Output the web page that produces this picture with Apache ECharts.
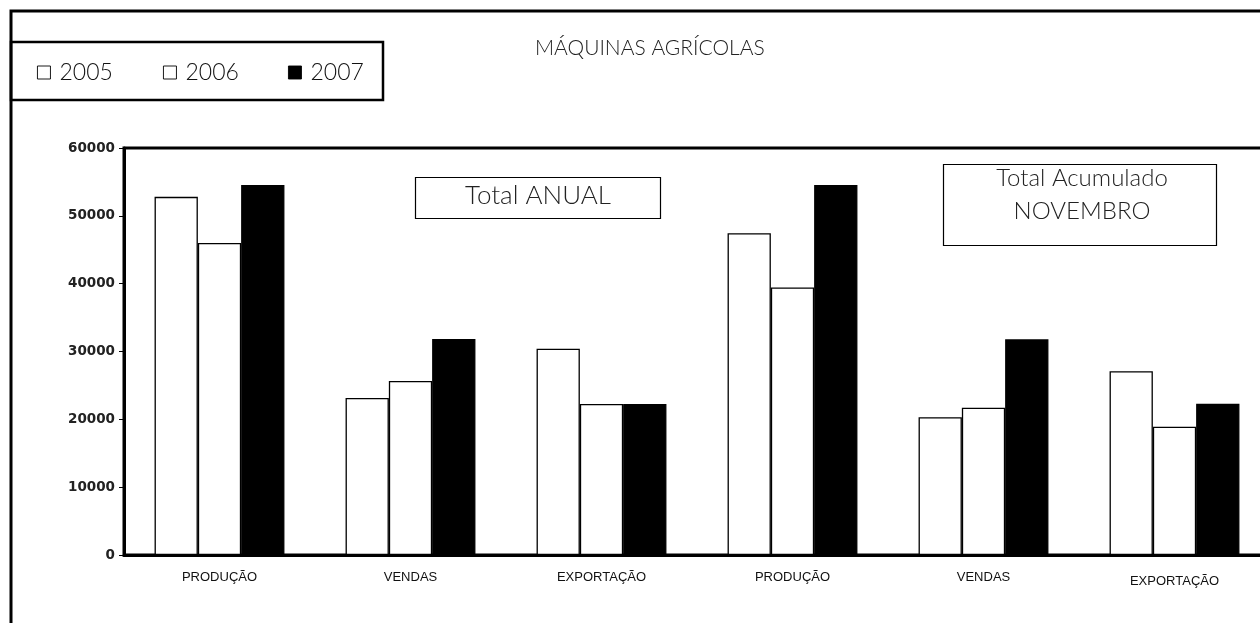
<!DOCTYPE html>
<html>
<head>
<meta charset="utf-8">
<script src="https://cdn.jsdelivr.net/npm/echarts@6/dist/echarts.min.js"></script>
<style>
html,body{margin:0;padding:0;background:#fff;}
#main{width:1260px;height:623px;}
</style>
</head>
<body>
<div id="main"></div>
<script>
var categories = ['PRODUÇÃO', 'VENDAS', 'EXPORTAÇÃO', 'PRODUÇÃO ', 'VENDAS ', 'EXPORTAÇÃO '];
var seriesNames = ['2005', '2006', '2007'];
var values2005 = [52800, 23150, 30400, 47450, 20300, 27100];
var values2006 = [46000, 25650, 22250, 39450, 21700, 18900];
var values2007 = [54550, 31850, 22250, 54550, 31800, 22300];
var yTicks = [0, 10000, 20000, 30000, 40000, 50000, 60000];
var chartTitle = 'MÁQUINAS AGRÍCOLAS';
var note1 = 'Total ANUAL';
var note2 = 'Total Acumulado\nNOVEMBRO';

var thin = 'Lato, "Open Sans", sans-serif';
var legendLefts = [32, 158, 283];
var chart = echarts.init(document.getElementById('main'));

var legends = seriesNames.map(function (n, i) {
  return {
    left: legendLefts[i], top: 56,
    itemWidth: 13, itemHeight: 13,
    icon: 'rect', selectedMode: false,
    itemStyle: {borderWidth: 0.9},
    data: [n],
    textStyle: {fontFamily: thin, fontWeight: 300, fontSize: 23, color: '#111', padding: [0, 0, 0, 4]}
  };
});

var option = {
  backgroundColor: '#fff',
  animation: false,
  title: {
    text: chartTitle,
    left: 530, top: 33,
    textStyle: {fontFamily: thin, fontWeight: 300, fontSize: 21, color: '#222'}
  },
  legend: legends,
  grid: {
    left: 124, top: 148, width: 1146, height: 407,
    outerBoundsMode: 'none', containLabel: false,
    show: true, borderColor: '#000', borderWidth: 3, backgroundColor: 'transparent'
  },
  xAxis: {
    type: 'category',
    data: categories.map(function (c, i) {
      return i === 5 ? {value: c, textStyle: {padding: [4, 0, 0, 0]}} : c;
    }),
    axisLine: {lineStyle: {color: '#000', width: 3}},
    axisTick: {show: false},
    axisLabel: {
      fontFamily: '"Liberation Sans", Arial, sans-serif', fontSize: 13, color: '#111', margin: 16,
      formatter: function (v) { return v.trim(); }
    }
  },
  yAxis: {
    type: 'value', min: 0, max: 60000, interval: 10000,
    splitLine: {show: false},
    axisLine: {show: true, lineStyle: {color: '#000', width: 3}},
    axisTick: {show: true, length: 5, lineStyle: {color: '#000', width: 1}},
    axisLabel: {
      fontFamily: '"DejaVu Sans", sans-serif', fontSize: 13.5, fontWeight: 'bold', color: '#222', margin: 9,
      formatter: function (v) { return yTicks.indexOf(v) >= 0 ? String(v) : ''; }
    }
  },
  series: [
    {name: seriesNames[0], type: 'bar', data: values2005, barGap: '0%', barCategoryGap: '32%',
     itemStyle: {color: '#fff', borderColor: '#000', borderWidth: 1.3}},
    {name: seriesNames[1], type: 'bar', data: values2006, barGap: '0%', barCategoryGap: '32%',
     itemStyle: {color: '#fff', borderColor: '#000', borderWidth: 1.3}},
    {name: seriesNames[2], type: 'bar', data: values2007, barGap: '0%', barCategoryGap: '32%',
     itemStyle: {color: '#000', borderColor: '#000', borderWidth: 1.3}}
  ],
  graphic: [
    {type: 'rect', shape: {x: 11, y: 11, width: 1400, height: 800}, silent: true, z: 100,
     style: {fill: null, stroke: '#000', lineWidth: 3}},
    {type: 'rect', shape: {x: 11, y: 42, width: 372, height: 58}, silent: true, z: 100,
     style: {fill: null, stroke: '#000', lineWidth: 2.5}},
    {type: 'rect', shape: {x: 415.5, y: 177.5, width: 245, height: 41}, silent: true, z: 100,
     style: {fill: '#fff', stroke: '#000', lineWidth: 1.2}},
    {type: 'text', x: 538, y: 196, silent: true, z: 101,
     style: {text: note1, textAlign: 'center', textVerticalAlign: 'middle',
             font: '300 26px ' + thin, fill: '#222'}},
    {type: 'rect', shape: {x: 943.5, y: 164.5, width: 273, height: 81}, silent: true, z: 100,
     style: {fill: '#fff', stroke: '#000', lineWidth: 1.2}},
    {type: 'text', x: 1082, y: 195, silent: true, z: 101,
     style: {text: note2, textAlign: 'center', textVerticalAlign: 'middle', lineHeight: 33,
             font: '300 24px ' + thin, fill: '#222'}}
  ]
};
chart.setOption(option);
</script>
</body>
</html>
